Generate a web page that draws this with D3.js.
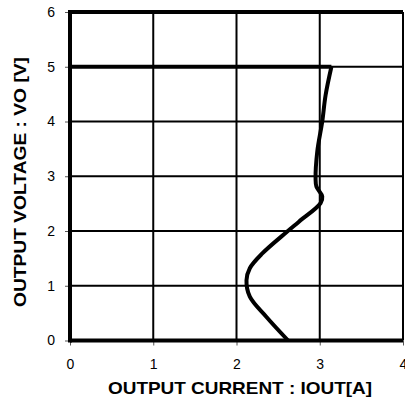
<!DOCTYPE html>
<html><head><meta charset="utf-8">
<script src="https://cdn.jsdelivr.net/npm/d3@7"></script>
<style>html,body{margin:0;padding:0;background:#fff;overflow:hidden}</style>
</head><body>
<svg id="c" width="405" height="401"></svg>
<script>
const xTicks = [0, 1, 2, 3, 4];
const yTicks = [0, 1, 2, 3, 4, 5, 6];
const xLabel = "OUTPUT CURRENT : IOUT[A]";
const yLabel = "OUTPUT VOLTAGE : VO [V]";
// current limit level (horizontal part)
const limitX = [0, 3.14];
const limitY = [5.0, 5.0];
// foldback curve
const curveX = [3.14, 3.07, 3.03, 2.97, 2.95, 2.96, 3.03, 3.01, 2.75, 2.61, 2.31, 2.16, 2.12, 2.16, 2.36, 2.62];
const curveY = [5.0, 4.48, 4.0, 3.45, 2.96, 2.81, 2.63, 2.51, 2.17, 1.99, 1.59, 1.32, 1.10, 0.80, 0.43, 0.0];

const svg = d3.select("#c");
const x = d3.scaleLinear().domain([0, 4]).range([70, 403]);
const y = d3.scaleLinear().domain([0, 6]).range([340.5, 12]);
const font = "'Liberation Sans', Arial, sans-serif";

// grid
svg.append("g").selectAll("line").data(xTicks.slice(1)).join("line")
  .attr("x1", d => x(d)).attr("x2", d => x(d)).attr("y1", y(0)).attr("y2", y(6))
  .attr("stroke", "#000").attr("stroke-width", 2);
svg.append("g").selectAll("line").data(yTicks.slice(1, -1)).join("line")
  .attr("x1", x(0)).attr("x2", x(4)).attr("y1", d => y(d)).attr("y2", d => y(d))
  .attr("stroke", "#000").attr("stroke-width", 2);

// axes
const yAxis = svg.append("g").attr("transform", `translate(${x(0)},0)`)
  .call(d3.axisLeft(y).tickValues(yTicks).tickSize(5).tickPadding(10).tickFormat(d3.format("d")));
const xAxis = svg.append("g").attr("transform", `translate(0,${y(0)})`)
  .call(d3.axisBottom(x).tickValues(xTicks).tickSize(5).tickPadding(14).tickFormat(d3.format("d")));
[yAxis, xAxis].forEach(a => {
  a.select(".domain").remove();
  a.selectAll(".tick line").attr("stroke", "#555").attr("stroke-width", 1);
  a.selectAll("text").attr("font-family", font).attr("font-size", 14).attr("fill", "#000");
});

// thick frame lines (left, top, bottom)
svg.append("line").attr("x1", x(0)).attr("x2", x(0)).attr("y1", y(0) + 2).attr("y2", y(6) - 2)
  .attr("stroke", "#000").attr("stroke-width", 4);
svg.append("line").attr("x1", x(0)).attr("x2", x(4)).attr("y1", y(6)).attr("y2", y(6))
  .attr("stroke", "#000").attr("stroke-width", 4);
svg.append("line").attr("x1", x(0)).attr("x2", x(4)).attr("y1", y(0)).attr("y2", y(0))
  .attr("stroke", "#000").attr("stroke-width", 4);

// data
const limitPts = limitX.map((d, i) => [d, limitY[i]]);
const curvePts = curveX.map((d, i) => [d, curveY[i]]);
svg.append("path").datum(limitPts)
  .attr("d", d3.line().x(d => x(d[0])).y(d => y(d[1])))
  .attr("fill", "none").attr("stroke", "#000").attr("stroke-width", 4);
svg.append("path").datum(curvePts)
  .attr("d", d3.line().x(d => x(d[0])).y(d => y(d[1])).curve(d3.curveCatmullRom.alpha(0.5)))
  .attr("fill", "none").attr("stroke", "#000").attr("stroke-width", 4).attr("stroke-linejoin", "round");

// labels
svg.append("text").attr("x", 240).attr("y", 394).attr("text-anchor", "middle")
  .attr("font-family", font).attr("font-weight", "bold").attr("font-size", 17)
  .attr("textLength", 264).attr("lengthAdjust", "spacingAndGlyphs").text(xLabel);
svg.append("text").attr("transform", "translate(26,182) rotate(-90)").attr("text-anchor", "middle")
  .attr("font-family", font).attr("font-weight", "bold").attr("font-size", 17)
  .attr("textLength", 250).attr("lengthAdjust", "spacingAndGlyphs").text(yLabel);
</script>
</body></html>
